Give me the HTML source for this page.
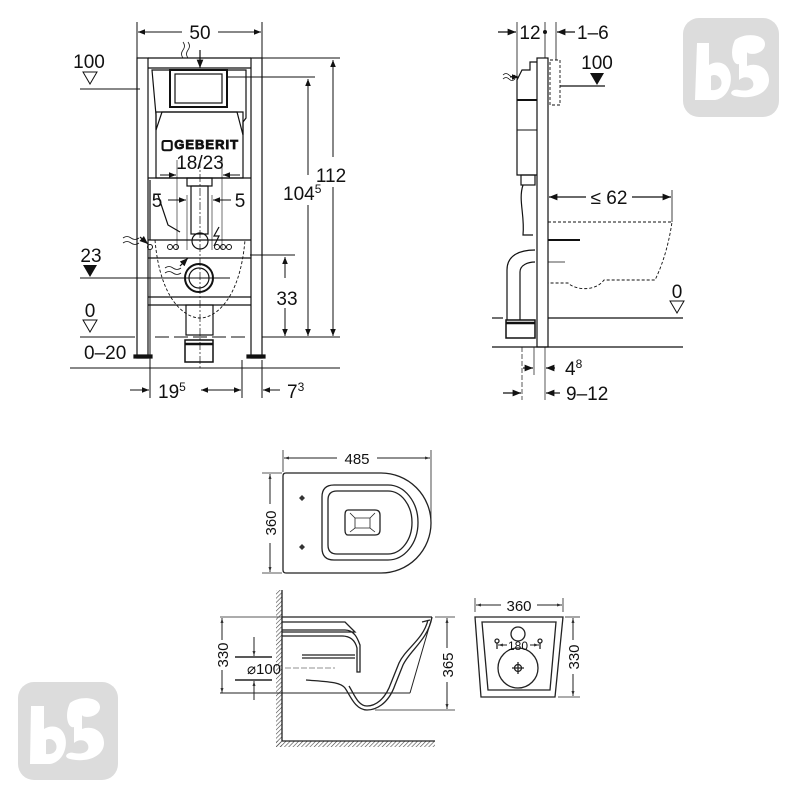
<!DOCTYPE html>
<html><head><meta charset="utf-8"><style>
html,body{margin:0;padding:0;background:#fff;width:800px;height:800px;overflow:hidden}
svg{display:block}
text{font-family:"Liberation Sans",sans-serif;fill:#111}
</style></head><body>
<svg width="800" height="800" viewBox="0 0 800 800" xmlns="http://www.w3.org/2000/svg">
<defs>
<marker id="a" viewBox="0 0 10 10" refX="10" refY="5" markerWidth="7" markerHeight="7" orient="auto-start-reverse"><path d="M0,1 L10,5 L0,9 z" fill="#111"/></marker>
<marker id="s" viewBox="0 0 10 10" refX="10" refY="5" markerWidth="5" markerHeight="5" orient="auto-start-reverse"><path d="M0,2 L10,5 L0,8 z" fill="#333"/></marker>
<pattern id="h" width="3" height="3" patternUnits="userSpaceOnUse" patternTransform="rotate(45)"><line x1="0" y1="0" x2="0" y2="3" stroke="#444" stroke-width="1.2"/></pattern>
</defs>

<!-- ============ FRONT VIEW (left) ============ -->
<g stroke="#111" fill="none" stroke-width="1.2">
 <rect x="137" y="58" width="11" height="300"/>
 <rect x="251" y="58" width="11" height="300"/>
 <line x1="148" y1="58" x2="251" y2="58"/>
 <line x1="148" y1="68" x2="251" y2="68"/>
 <rect x="134" y="355" width="18" height="3" fill="#111"/>
 <rect x="247" y="355" width="18" height="3" fill="#111"/>
 <path d="M152,70 H246 V118 L243,122 V135 L237,112 H162 L156,130 V115 Z"/>
 <path d="M156,112 H243 V178 H156 Z"/>
 <rect x="170" y="70" width="57" height="37" stroke-width="2"/>
 <rect x="175" y="74" width="47" height="29"/>
 <line x1="148" y1="178" x2="251" y2="178"/>
 <rect x="187" y="178" width="25" height="8"/>
 <rect x="191" y="186" width="17" height="48"/>
 <path d="M150,180 V240 M158,195 L168,225 L180,232"/>
 <line x1="148" y1="240" x2="251" y2="240"/>
 <line x1="148" y1="258" x2="251" y2="258"/>
 <circle cx="200" cy="241" r="8"/>
 <circle cx="199" cy="278" r="14" stroke-width="2"/>
 <circle cx="199" cy="278" r="10"/>
 <line x1="148" y1="297" x2="251" y2="297"/>
 <line x1="148" y1="305" x2="251" y2="305"/>
 <rect x="186" y="305" width="27" height="30"/>
 <rect x="185" y="340" width="28" height="22" stroke-width="1.5"/>
 <line x1="185" y1="344" x2="213" y2="344" stroke-width="2.5"/>
 <path d="M155,240 C160,300 185,318 200,318 C215,318 240,300 245,240" stroke-dasharray="3,2" stroke-width="0.9"/>
 <g stroke-width="1"><circle cx="150" cy="247" r="2.5"/><circle cx="170" cy="247" r="2.5"/><circle cx="176" cy="247" r="2.5"/><circle cx="217" cy="247" r="2.5"/><circle cx="223" cy="247" r="2.5"/><circle cx="229" cy="247" r="2.5"/></g>
 <line x1="200" y1="160" x2="200" y2="370" stroke-dasharray="8,2,2,2" stroke-width="0.7"/>
 <path d="M183,42 q3,4 0,8 q-3,4 0,8 M188,42 q3,4 0,8 q-3,4 0,8" stroke-width="0.8"/>
 <path d="M123,238 q4,-3 8,0 q4,3 8,0 M123,243 q4,-3 8,0 q4,3 8,0" stroke-width="0.8"/>
 <path d="M165,268 q4,-3 8,0 q4,3 8,0 M165,273 q4,-3 8,0 q4,3 8,0" stroke-width="0.8"/>
</g>
<line x1="200" y1="50" x2="200" y2="68" stroke="#111" stroke-width="1.2" marker-end="url(#a)"/>
<line x1="140" y1="237" x2="148" y2="244" stroke="#111" stroke-width="1.2" marker-end="url(#a)"/>
<line x1="180" y1="266" x2="188" y2="258" stroke="#111" stroke-width="1.2" marker-end="url(#a)"/>
<path d="M219,227 L214,236 L219,236 L214,246" stroke="#111" fill="none" stroke-width="1.2"/>
<text x="200" y="149" font-size="13" font-weight="bold" text-anchor="middle" fill="#fff" stroke="#111" stroke-width="0.8" letter-spacing="1">▢GEBERIT</text>
<text x="200" y="169" font-size="19" text-anchor="middle">18/23</text>

<g stroke="#111" stroke-width="1" fill="none">
 <line x1="137" y1="22" x2="137" y2="58"/><line x1="262" y1="22" x2="262" y2="58"/>
 <line x1="138" y1="32" x2="182" y2="32" marker-start="url(#a)"/><line x1="218" y1="32" x2="261" y2="32" marker-end="url(#a)"/>
 <line x1="262" y1="58" x2="340" y2="58"/>
 <line x1="228" y1="77" x2="315" y2="77"/>
 <line x1="333" y1="60" x2="333" y2="157" marker-start="url(#a)"/><line x1="333" y1="187" x2="333" y2="336" marker-end="url(#a)"/>
 <line x1="308" y1="79" x2="308" y2="175" marker-start="url(#a)"/><line x1="308" y1="205" x2="308" y2="336" marker-end="url(#a)"/>
 <line x1="250" y1="255" x2="295" y2="255"/>
 <line x1="285" y1="257" x2="285" y2="278" marker-start="url(#a)"/><line x1="285" y1="308" x2="285" y2="336" marker-end="url(#a)"/>
 <line x1="80" y1="89" x2="140" y2="89"/>
 <line x1="80" y1="278" x2="230" y2="278"/>
 <line x1="80" y1="337" x2="135" y2="337"/>
 <line x1="155" y1="337" x2="245" y2="337" stroke-dasharray="14,5"/>
 <line x1="262" y1="337" x2="340" y2="337"/>
 <line x1="70" y1="368" x2="340" y2="368"/>
 <line x1="177" y1="160" x2="177" y2="250" stroke-width="0.6"/><line x1="222" y1="160" x2="222" y2="250" stroke-width="0.6"/>
 <line x1="187" y1="195" x2="187" y2="250" stroke-width="0.6"/><line x1="212" y1="195" x2="212" y2="250" stroke-width="0.6"/>
 <line x1="160" y1="175" x2="176" y2="175" marker-end="url(#a)"/><line x1="240" y1="175" x2="223" y2="175" marker-end="url(#a)"/>
 <line x1="168" y1="200" x2="186" y2="200" marker-end="url(#a)"/><line x1="231" y1="200" x2="213" y2="200" marker-end="url(#a)"/>
 <line x1="150" y1="250" x2="150" y2="398"/><line x1="242" y1="360" x2="242" y2="398"/><line x1="262" y1="360" x2="262" y2="398"/>
 <line x1="130" y1="390" x2="149" y2="390" marker-end="url(#a)"/>
 <line x1="201" y1="390" x2="241" y2="390" marker-start="url(#a)" marker-end="url(#a)"/>
 <line x1="280" y1="390" x2="263" y2="390" marker-end="url(#a)"/>
</g>
<path d="M83,72 h14 l-7,12 z" fill="#fff" stroke="#111"/>
<path d="M83,265 h14 l-7,12 z" fill="#111"/>
<path d="M83,320 h14 l-7,12 z" fill="#fff" stroke="#111"/>
<g font-size="19">
<text x="200" y="39" text-anchor="middle">50</text>
<text x="89" y="68" text-anchor="middle">100</text>
<text x="91" y="262" text-anchor="middle">23</text>
<text x="90" y="317" text-anchor="middle">0</text>
<text x="84" y="359">0–20</text>
<text x="157" y="207" text-anchor="middle">5</text>
<text x="240" y="207" text-anchor="middle">5</text>
<text x="331" y="182" text-anchor="middle">112</text>
<text x="283" y="200">104<tspan font-size="12" dy="-7">5</tspan></text>
<text x="287" y="305" text-anchor="middle">33</text>
<text x="158" y="398">19<tspan font-size="12" dy="-7">5</tspan></text>
<text x="287" y="398">7<tspan font-size="12" dy="-7">3</tspan></text>
</g>

<!-- ============ SIDE VIEW (right) ============ -->
<g stroke="#111" fill="none" stroke-width="1.2">
 <rect x="537" y="58" width="11" height="289"/>
 <path d="M517,80 V175 H537 M517,80 L522,70 H530 V62 H537"/>
 <rect x="517" y="100" width="20" height="30" stroke-width="1"/>
 <line x1="517" y1="100" x2="537" y2="100" stroke-width="2"/>
 <rect x="521" y="175" width="14" height="10"/>
 <path d="M523,185 C518,200 525,215 523,235 H533"/>
 <path d="M507,320 V270 C507,255 520,250 535,250 M520,320 V272 C520,265 528,262 535,262"/>
 <rect x="506" y="320" width="29" height="18" stroke-width="1.5"/>
 <line x1="506" y1="323" x2="535" y2="323" stroke-width="2.5"/>
 <line x1="548" y1="240" x2="580" y2="240" stroke-width="2"/>
 <path d="M548,222 H672 C668,250 660,270 655,280 H604 C595,292 575,290 568,283 H548" stroke-dasharray="3,2" stroke-width="0.9"/>
 <line x1="548" y1="262" x2="565" y2="262" stroke-width="0.8"/>
 <rect x="550" y="60" width="10" height="45" stroke-dasharray="3,2" stroke-width="0.9"/>
 <path d="M503,75 q3,-3 6,0 q3,3 6,0 M503,79 q3,-3 6,0 q3,3 6,0" stroke-width="0.8"/>
 <line x1="492" y1="347" x2="683" y2="347"/>
 <line x1="548" y1="318" x2="683" y2="318"/>
 <line x1="492" y1="318" x2="503" y2="318"/>
 <line x1="560" y1="86" x2="605" y2="86"/>
 <line x1="517" y1="22" x2="517" y2="80" stroke-width="0.8"/>
 <line x1="556" y1="22" x2="556" y2="60" stroke-width="0.8"/>
 <line x1="545" y1="22" x2="545" y2="58" stroke-width="0.8"/>
 <line x1="498" y1="32" x2="516" y2="32" marker-end="url(#a)"/>
 <line x1="575" y1="32" x2="557" y2="32" marker-end="url(#a)"/>
 <line x1="549" y1="197" x2="586" y2="197" marker-start="url(#a)"/><line x1="632" y1="197" x2="671" y2="197" marker-end="url(#a)"/>
 <line x1="672" y1="190" x2="672" y2="222" stroke-width="0.8"/>
 <line x1="522" y1="347" x2="522" y2="400" stroke-dasharray="5,2" stroke-width="0.7"/>
 <line x1="534" y1="347" x2="534" y2="375" stroke-width="0.7"/>
 <line x1="545" y1="347" x2="545" y2="400" stroke-width="0.7"/>
 <line x1="523" y1="368" x2="533" y2="368" marker-end="url(#a)"/>
 <line x1="555" y1="368" x2="546" y2="368" marker-end="url(#a)"/>
 <line x1="503" y1="393" x2="521" y2="393" marker-end="url(#a)"/>
 <line x1="560" y1="393" x2="546" y2="393" marker-end="url(#a)"/>
</g>
<line x1="510" y1="77" x2="519" y2="77" stroke="#111" marker-end="url(#a)"/>
<circle cx="545" cy="32" r="2" fill="#111"/>
<path d="M590,73 h14 l-7,12 z" fill="#111"/>
<path d="M670,301 h14 l-7,12 z" fill="#fff" stroke="#111"/>
<g font-size="19">
<text x="530" y="39" text-anchor="middle">12</text>
<text x="577" y="39">1–6</text>
<text x="597" y="69" text-anchor="middle">100</text>
<text x="609" y="204" text-anchor="middle">≤ 62</text>
<text x="677" y="298" text-anchor="middle">0</text>
<text x="565" y="375">4<tspan font-size="12" dy="-7">8</tspan></text>
<text x="566" y="400">9–12</text>
</g>

<!-- ============ BOTTOM: top view ============ -->
<g stroke="#222" fill="none" stroke-width="1.3">
 <path d="M286,473 H381 A50,50 0 0 1 381,573 H286 Q283,573 283,570 V476 Q283,473 286,473 Z"/>
 <path d="M334,485 H388 A30,37.5 0 0 1 388,560 H334 Q322,560 322,548 V497 Q322,485 334,485 Z"/>
 <path d="M337,491 H388 A24,31.5 0 0 1 388,554 H337 Q328,554 328,545 V500 Q328,491 337,491 Z"/>
 <path d="M348,510 H375 Q380,510 380,515 V530 Q380,535 375,535 H348 Q345,535 345,530 V515 Q345,510 348,510 Z"/>
 <path d="M350,513 L355,518 V528 L350,532 M375,513 L370,518 V528 L375,532 M355,518 H370 M355,528 H370" stroke-width="0.8"/>
 <line x1="283" y1="450" x2="283" y2="472" stroke-width="0.8"/><line x1="431" y1="450" x2="431" y2="522" stroke-width="0.8"/>
 <line x1="284" y1="458" x2="337" y2="458" marker-start="url(#s)" stroke-width="1"/><line x1="377" y1="458" x2="430" y2="458" marker-end="url(#s)" stroke-width="1"/>
 <line x1="262" y1="473" x2="282" y2="473" stroke-width="0.8"/><line x1="262" y1="573" x2="282" y2="573" stroke-width="0.8"/>
 <line x1="270" y1="474" x2="270" y2="504" marker-start="url(#s)" stroke-width="1"/><line x1="270" y1="543" x2="270" y2="572" marker-end="url(#s)" stroke-width="1"/>
</g>
<path d="M302,495 l3,3 l-3,3 l-3,-3 z M302,544 l3,3 l-3,3 l-3,-3 z" fill="#333"/>
<g font-size="15" fill="#333">
<text x="357" y="464" text-anchor="middle">485</text>
<text transform="translate(276,523) rotate(-90)" text-anchor="middle">360</text>
</g>

<rect x="276" y="590" width="6" height="157" fill="url(#h)"/>
<rect x="276" y="741" width="159" height="6" fill="url(#h)"/>
<g stroke="#222" fill="none" stroke-width="1.3">
 <line x1="282" y1="590" x2="282" y2="741"/><line x1="282" y1="741" x2="435" y2="741"/>
 <line x1="282" y1="617" x2="432" y2="617"/>
 <path d="M432,617 C428,640 410,650 403,665 L395,685 C388,705 375,710 367,710 C355,710 350,695 345,688 C340,682 330,682 306,680"/>
 <path d="M428,620 C423,640 406,648 399,663 L391,683 C385,700 375,706 367,706 C358,706 354,694 349,686"/>
 <path d="M432,617 L410,693 M410,693 H220" stroke-width="1"/>
 <path d="M282,622 H345 L355,632 H282 M282,630 H345 C355,630 358,640 360,645 V672 H357 V648 C355,640 350,636 342,636 H282"/>
 <path d="M302,655 H355 M302,658 H355 M422,622 L430,620"/>
 <line x1="220" y1="617" x2="282" y2="617" stroke-width="0.8"/>
 <line x1="222" y1="618" x2="222" y2="640" marker-start="url(#s)" stroke-width="1"/><line x1="222" y1="670" x2="222" y2="693" marker-end="url(#s)" stroke-width="1"/>
 <line x1="235" y1="657" x2="272" y2="657" stroke-width="1.6"/><line x1="235" y1="680" x2="272" y2="680" stroke-width="1.6"/>
 <line x1="254" y1="637" x2="254" y2="656" marker-end="url(#s)" stroke-width="1"/><line x1="254" y1="700" x2="254" y2="681" marker-end="url(#s)" stroke-width="1"/>
 <line x1="285" y1="668" x2="335" y2="668" stroke-dasharray="6,2" stroke-width="0.6"/>
 <line x1="435" y1="617" x2="455" y2="617" stroke-width="0.8"/><line x1="375" y1="710" x2="455" y2="710" stroke-width="0.8"/>
 <line x1="447" y1="618" x2="447" y2="648" marker-start="url(#s)" stroke-width="1"/><line x1="447" y1="682" x2="447" y2="709" marker-end="url(#s)" stroke-width="1"/>
</g>
<g font-size="15" fill="#333">
<text transform="translate(228,655) rotate(-90)" text-anchor="middle">330</text>
<text x="264" y="674" text-anchor="middle">⌀100</text>
<text transform="translate(453,665) rotate(-90)" text-anchor="middle">365</text>
</g>

<g stroke="#222" fill="none" stroke-width="1.3">
 <path d="M475,617 H563 L555,697 H481 Z"/>
 <path d="M482,622 H556 L550,690 H488 Z"/>
 <circle cx="518" cy="634" r="7"/>
 <circle cx="518" cy="668" r="20"/>
 <path d="M512,668 h12 M518,662 v12"/><circle cx="518" cy="668" r="3.5"/>
 <circle cx="497" cy="641" r="2"/><circle cx="540" cy="641" r="2"/>
 <line x1="497" y1="643" x2="497" y2="649"/><line x1="540" y1="643" x2="540" y2="649"/>
 <line x1="498" y1="645" x2="507" y2="645" marker-start="url(#s)" stroke-width="1"/><line x1="530" y1="645" x2="539" y2="645" marker-end="url(#s)" stroke-width="1"/>
 <line x1="475" y1="598" x2="475" y2="612" stroke-width="0.8"/><line x1="563" y1="598" x2="563" y2="612" stroke-width="0.8"/>
 <line x1="476" y1="605" x2="501" y2="605" marker-start="url(#s)" stroke-width="1"/><line x1="537" y1="605" x2="562" y2="605" marker-end="url(#s)" stroke-width="1"/>
 <line x1="565" y1="617" x2="580" y2="617" stroke-width="0.8"/><line x1="558" y1="697" x2="580" y2="697" stroke-width="0.8"/>
 <line x1="573" y1="618" x2="573" y2="640" marker-start="url(#s)" stroke-width="1"/><line x1="573" y1="674" x2="573" y2="696" marker-end="url(#s)" stroke-width="1"/>
</g>
<g font-size="15" fill="#333">
<text x="519" y="611" text-anchor="middle">360</text>
<text x="518" y="650" text-anchor="middle" font-size="12">180</text>
<text transform="translate(579,657) rotate(-90)" text-anchor="middle">330</text>
</g>

<g>
 <rect x="683" y="18" width="96" height="99" rx="16" fill="#dcdcdc"/>
 <path d="M697,43 h12 v22 c6,-4 16,-4 20,5 c5,10 0,28 -14,30 h-20 z M711,76 v14 c8,1 12,-4 10,-10 c-2,-5 -7,-6 -10,-4 z" fill="#fff"/>
 <path d="M735,40 c10,-8 30,-6 30,4 c0,10 -16,12 -18,8 l0,14 c10,-4 22,2 22,14 c0,14 -18,20 -34,16 c-8,-2 -2,-8 4,-6 c10,2 16,-2 14,-8 c-2,-6 -10,-6 -14,-2 v-16 c-6,2 -10,-12 -4,-24 z" fill="#fff"/>
 <rect x="18" y="682" width="100" height="98" rx="16" fill="#dcdcdc"/>
 <path d="M31,706 h13 v23 c6,-4 16,-4 20,5 c5,10 0,28 -14,30 h-20 z M46,740 v14 c8,1 12,-4 10,-10 c-2,-5 -7,-6 -10,-4 z" fill="#fff"/>
 <path d="M70,703 c10,-8 30,-6 30,4 c0,10 -16,12 -18,8 l0,14 c10,-4 22,2 22,14 c0,14 -18,20 -34,16 c-8,-2 -2,-8 4,-6 c10,2 16,-2 14,-8 c-2,-6 -10,-6 -14,-2 v-16 c-6,2 -10,-12 -4,-24 z" fill="#fff"/>
</g>
</svg>
</body></html>
